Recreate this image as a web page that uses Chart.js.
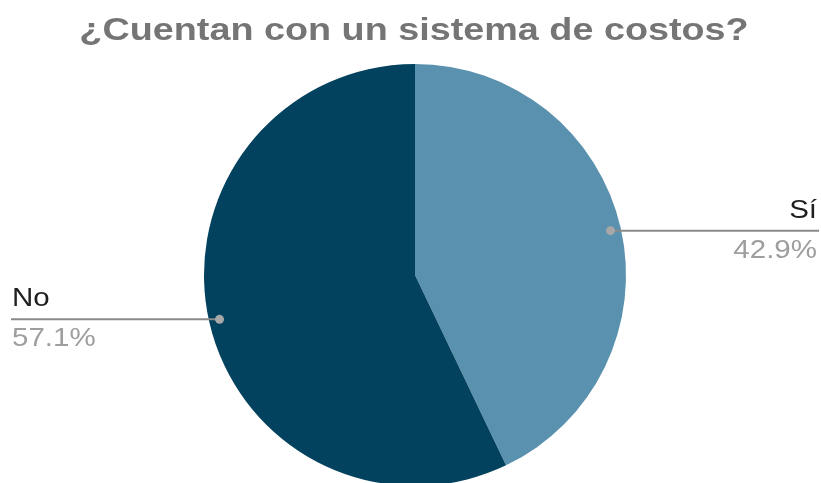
<!DOCTYPE html>
<html>
<head>
<meta charset="utf-8">
<script src="https://cdn.jsdelivr.net/npm/chart.js@4"></script>
<style>
    html, body { margin: 0; padding: 0; background: #ffffff; overflow: hidden; }
    #wrap { width: 821px; height: 490px; position: relative; }
</style>
</head>
<body>
<div id="wrap"><canvas id="pieChart"></canvas></div>
<script>
// -------- Datos --------
const titleText = '¿Cuentan con un sistema de costos?';
const categories = ['Sí', 'No'];
const values = [42.9, 57.1];
const percentLabels = ['42.9%', '57.1%'];
const sliceColors = ['#5a91ae', '#03425e'];

// texto algo ensanchado, como en la imagen original
function stretchedText(ctx, text, x, y, sx) {
    ctx.save();
    ctx.translate(x, y);
    ctx.scale(sx, 1);
    ctx.fillText(text, 0, 0);
    ctx.restore();
}

// -------- Título --------
const titleDraw = {
    id: 'titleDraw',
    afterDraw(chart) {
        const ctx = chart.ctx;
        ctx.save();
        ctx.font = 'bold 32px "Liberation Sans", Arial, sans-serif';
        ctx.fillStyle = '#757575';
        ctx.textAlign = 'center';
        ctx.textBaseline = 'alphabetic';
        stretchedText(ctx, titleText, 414, 40, 1.18);
        ctx.restore();
    }
};

// -------- Etiquetas con línea guía --------
const leaderLabels = {
    id: 'leaderLabels',
    afterDatasetsDraw(chart) {
        const ctx = chart.ctx;
        const meta = chart.getDatasetMeta(0);

        meta.data.forEach((arc, i) => {
            const { x, y, startAngle, endAngle, outerRadius } = arc.getProps(['x', 'y', 'startAngle', 'endAngle', 'outerRadius'], true);
            const mid = (startAngle + endAngle) / 2;
            const px = x + Math.cos(mid) * outerRadius * 0.95;
            const py = y + Math.sin(mid) * outerRadius * 0.95;
            const right = Math.cos(mid) >= 0;
            const endX = right ? chart.width - 2 : 11;

            ctx.save();
            ctx.strokeStyle = '#8a8a8a';
            ctx.lineWidth = 2;
            ctx.beginPath();
            ctx.moveTo(px, py);
            ctx.lineTo(endX, py);
            ctx.stroke();

            ctx.fillStyle = '#a8a8a8';
            ctx.beginPath();
            ctx.arc(px, py, 4.5, 0, Math.PI * 2);
            ctx.fill();

            ctx.font = '25px "Liberation Sans", Arial, sans-serif';
            ctx.textAlign = right ? 'right' : 'left';
            ctx.textBaseline = 'alphabetic';
            const tx = right ? chart.width - 4 : 12;
            ctx.fillStyle = '#1f1f1f';
            stretchedText(ctx, categories[i], tx, py - 13, 1.18);
            ctx.fillStyle = '#9e9e9e';
            stretchedText(ctx, percentLabels[i], tx, py + 27, 1.18);
            ctx.restore();
        });
    }
};

new Chart(document.getElementById('pieChart'), {
    type: 'pie',
    data: {
        labels: categories,
        datasets: [{
            data: values,
            backgroundColor: sliceColors,
            borderWidth: 0
        }]
    },
    options: {
        responsive: true,
        maintainAspectRatio: false,
        animation: false,
        layout: {
            padding: { left: 204, right: 195, top: 64, bottom: 4 }
        },
        plugins: {
            legend: { display: false },
            tooltip: { enabled: false },
            title: { display: false }
        }
    },
    plugins: [leaderLabels, titleDraw]
});
</script>
</body>
</html>
